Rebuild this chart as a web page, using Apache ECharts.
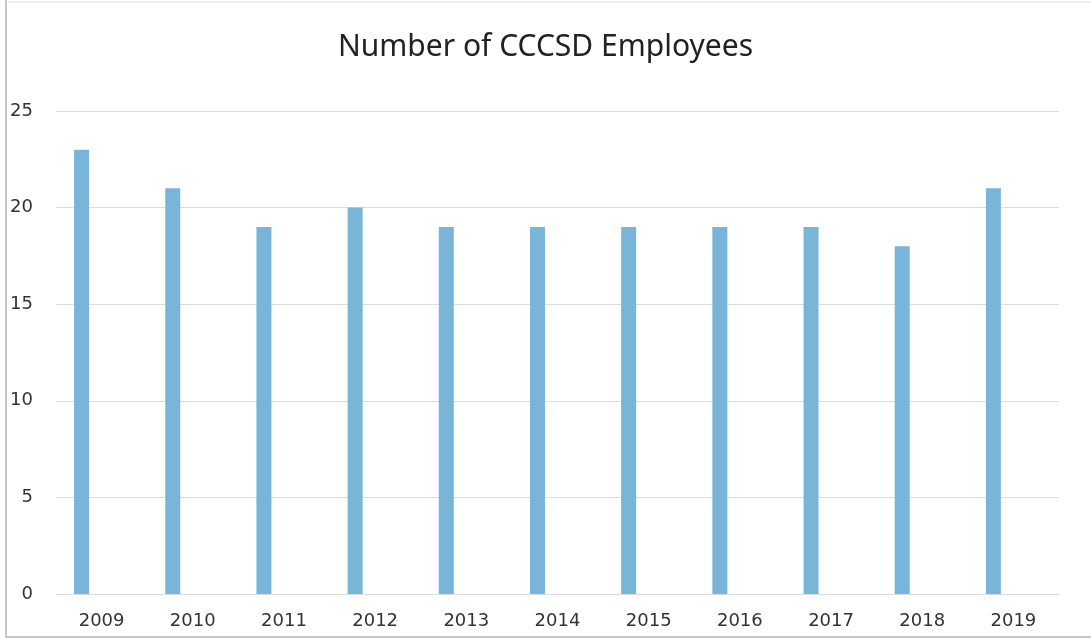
<!DOCTYPE html>
<html>
<head>
<meta charset="utf-8">
<script src="https://cdn.jsdelivr.net/npm/echarts@6/dist/echarts.min.js"></script>
<style>
  html, body { margin: 0; padding: 0; background: #fff; }
  #chart { width: 1091px; height: 641px; }
</style>
</head>
<body>
<div id="chart"></div>
<script>
const years = ["2009", "2010", "2011", "2012", "2013", "2014", "2015", "2016", "2017", "2018", "2019"];
const employees = [23, 21, 19, 20, 19, 19, 19, 19, 19, 18, 21];
const yTicks = [0, 5, 10, 15, 20, 25];

const chart = echarts.init(document.getElementById("chart"));

chart.setOption({
  animation: false,
  backgroundColor: "#fff",
  title: {
    text: "Number of CCCSD Employees",
    left: "center",
    top: 27,
    textStyle: {
      fontFamily: "Noto Sans",
      fontSize: 30,
      fontWeight: "normal",
      color: "#222"
    }
  },
  grid: { left: 56, right: 32, top: 111, bottom: 47 },
  xAxis: {
    type: "category",
    data: years,
    axisLine: { show: false },
    axisTick: { show: false },
    axisLabel: {
      margin: 18,
      fontFamily: "DejaVu Sans",
      fontSize: 18,
      color: "#333"
    }
  },
  yAxis: {
    type: "value",
    min: yTicks[0],
    max: yTicks[yTicks.length - 1],
    interval: 5,
    axisLine: { show: false },
    axisTick: { show: false },
    axisLabel: {
      margin: 23,
      fontFamily: "DejaVu Sans",
      fontSize: 18,
      color: "#333"
    },
    splitLine: { lineStyle: { color: "#dcdcdc", width: 1 } }
  },
  series: [
    {
      type: "bar",
      data: employees,
      barWidth: 15,
      barGap: "167%",
      itemStyle: { color: "#79b5d8" }
    },
    {
      // empty companion series, keeps the bars left of each year label
      type: "bar",
      data: years.map(() => null),
      barWidth: 15
    }
  ],
  graphic: [
    {
      type: "polyline",
      shape: { points: [[6, 0], [6, 637], [1091, 637]] },
      style: { stroke: "#b5b5b5", lineWidth: 1.5, fill: null }
    },
    {
      type: "line",
      shape: { x1: 6, y1: 2, x2: 1091, y2: 2 },
      style: { stroke: "#e2e2e2", lineWidth: 1 }
    }
  ]
});
</script>
</body>
</html>
